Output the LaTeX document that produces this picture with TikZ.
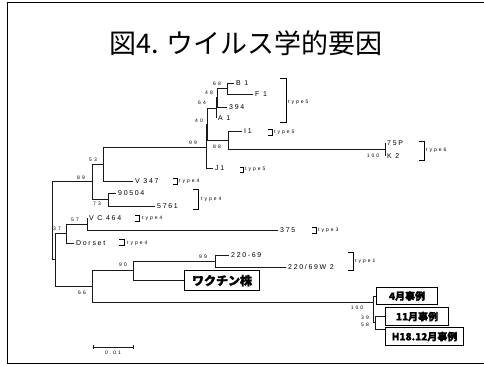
\documentclass[tikz,border=0pt]{standalone}
\usepackage{fontspec}
\setmainfont{Liberation Sans}
\newfontfamily\cjk{Noto Sans CJK JP}
\newfontfamily\cjkh{Noto Sans CJK JP}[BoldFeatures={FakeBold=1.5}]
\newfontfamily\lsp[LetterSpace=24]{Liberation Sans}
\newfontfamily\lss[LetterSpace=40]{Liberation Sans}
\begin{document}
\begin{tikzpicture}[x=1pt,y=-1pt,
  edge/.style={line width=1pt, black!90},
  brk/.style={line width=0.9pt, black},
  leaf/.style={anchor=west, inner xsep=2pt, inner ysep=0pt, font=\lsp\fontsize{7}{8}\selectfont},
  bs/.style={inner sep=0pt, font=\lss\fontsize{5}{6}\selectfont},
  typ/.style={anchor=west, inner sep=0pt, font=\lss\fontsize{5}{6}\selectfont},
  casebox/.style={draw, line width=1.1pt, fill=white, anchor=north west, inner sep=0pt,
    font=\cjkh\bfseries\fontsize{10}{12}\selectfont}]
\useasboundingbox (0,0) rectangle (484,365);
% frame
\draw[line width=1.5pt] (486,2.5) -- (7.5,2.5) -- (7.5,363.5) -- (486,363.5);
% title
\node[font=\cjk\fontsize{27}{32}\selectfont] (title) at (246,43) {図4. ウイルス学的要因};

% internal nodes
\coordinate (R) at (52,221);
\coordinate (n89) at (92,181.5);
\coordinate (n53) at (103,164);
\coordinate (n99) at (206,147);
\coordinate (n40) at (207,124);
\coordinate (n64) at (216,108);
\coordinate (n48) at (217,97.5);
\coordinate (n68) at (227,88.5);
\coordinate (n88) at (228,140);
\coordinate (n100) at (385,149.5);
\coordinate (n73) at (108,199.5);
\coordinate (Y) at (55,259.5);
\coordinate (n37) at (66,233);
\coordinate (n57) at (87,224);
\coordinate (n66) at (92,286);
\coordinate (n90) at (133,270.5);
\coordinate (n99b) at (215,261);
\coordinate (n100b) at (373,302);
\coordinate (n39) at (375,322);
\coordinate (hH) at (385,329);

% leaves
\node[leaf] (B1) at (234,83) {B 1};
\node[leaf] (F1) at (253,94) {F 1};
\node[leaf] (L394) at (227,107) {394};
\node[leaf] (A1) at (216,118) {A 1};
\node[leaf] (I1) at (242,131) {I1};
\node[leaf] (P75) at (385,143) {75P};
\node[leaf] (K2) at (385,156) {K 2};
\node[leaf] (J1) at (213,168) {J1};
\node[leaf] (V347) at (133,181) {V 347};
\node[leaf] (L90504) at (116,193) {90504};
\node[leaf] (L5761) at (155,206) {5761};
\node[leaf] (VC464) at (87,218) {V C 464};
\node[leaf] (L375) at (278,230) {375};
\node[leaf] (Dorset) at (74,243) {Dorset};
\node[leaf] (L22069) at (229,255) {220-69};
\node[leaf] (L22069W) at (286,267) {220/69W 2};

% tree edges
\draw[edge] (R) |- (n89);
\draw[edge] (R) |- (Y);
\draw[edge] (n89) |- (n53);
\draw[edge] (n89) |- (n73);
\draw[edge] (n53) |- (n99);
\draw[edge] (n53) |- (V347.west);
\draw[edge] (n99) |- (n40);
\draw[edge] (n99) |- (J1.west);
\draw[edge] (n40) |- (n64);
\draw[edge] (n40) |- (n88);
\draw[edge] (n64) |- (n48);
\draw[edge] (n64) |- (A1.west);
\draw[edge] (n48) |- (n68);
\draw[edge] (n48) |- (L394.west);
\draw[edge] (n68) |- (B1.west);
\draw[edge] (n68) |- (F1.west);
\draw[edge] (n88) |- (I1.west);
\draw[edge] (n88) |- (n100);
\draw[edge] (n100) |- (P75.west);
\draw[edge] (n100) |- (K2.west);
\draw[edge] (n73) |- (L90504.west);
\draw[edge] (n73) |- (L5761.west);
\draw[edge] (Y) |- (n37);
\draw[edge] (Y) |- (n66);
\draw[edge] (n37) |- (n57);
\draw[edge] (n37) |- (Dorset.west);
\draw[edge] (n57) |- (VC464.west);
\draw[edge] (n57) |- (L375.west);
\draw[edge] (n66) |- (n90);
\draw[edge] (n66) |- (n100b);
\draw[edge] (n90) |- (n99b);
\draw[edge] (n99b) |- (L22069.west);
\draw[edge] (n99b) |- (L22069W.west);
\draw[edge] (n100b) |- (n39);
\draw[edge] (n39) |- (hH);

% boxes
\node[casebox, minimum width=75pt, minimum height=20pt, font=\cjkh\bfseries\fontsize{12}{14}\selectfont] (vac) at (184,270) {ワクチン株};
\node[casebox, minimum width=61pt, minimum height=17pt] (c4) at (376,287) {4月事例};
\node[casebox, minimum width=63pt, minimum height=18pt] (c11) at (385,307) {11月事例};
\node[casebox, minimum width=78pt, minimum height=18pt] (cH) at (385,327) {H18.12月事例};
\draw[edge] (n90) |- (vac.west);
\draw[edge] (n100b) |- (c4.west);
\draw[edge] (n39) |- (c11.west);

% bootstrap values
\node[bs] (b68) at (217,84) {68};
\node[bs] (b48) at (209,93) {48};
\node[bs] (b64) at (202,103) {64};
\node[bs] (b40) at (199,121) {40};
\node[bs] (b99) at (193,143) {99};
\node[bs] (b88) at (217,147) {88};
\node[bs] (b100) at (373,156) {100};
\node[bs] (b53) at (93,160) {53};
\node[bs] (b89) at (81,178) {89};
\node[bs] (b73) at (97,204) {73};
\node[bs] (b57) at (75,220) {57};
\node[bs] (b37) at (57,229) {37};
\node[bs] (b99b) at (203,257) {99};
\node[bs] (b90) at (123,265) {90};
\node[bs] (b66) at (82,293) {66};
\node[bs] (b100b) at (357,308) {100};
\node[bs] (b39) at (365,318) {39};
\node[bs] (b58) at (365,325) {58};

% type brackets
\draw[brk] (280,78) -- (286,78) -- (286,122) -- (280,122);
\node[typ] (t5a) at (288,102) {type5};
\draw[brk] (268,129) -- (272,129) -- (272,135) -- (268,135);
\node[typ] (t5b) at (274,132) {type5};
\draw[brk] (240,167) -- (243,167) -- (243,172) -- (240,172);
\node[typ] (t5c) at (245,169) {type5};
\draw[brk] (419,141) -- (424,141) -- (424,160) -- (419,160);
\node[typ] (t6) at (426,150) {type6};
\draw[brk] (173,178) -- (177,178) -- (177,184) -- (173,184);
\node[typ] (t4a) at (179,181) {type4};
\draw[brk] (193,189) -- (198,189) -- (198,209) -- (193,209);
\node[typ] (t4b) at (201,199) {type4};
\draw[brk] (135,215) -- (139,215) -- (139,221) -- (135,221);
\node[typ] (t4c) at (142,218) {type4};
\draw[brk] (119,239) -- (124,239) -- (124,245) -- (119,245);
\node[typ] (t4d) at (127,243) {type4};
\draw[brk] (312,227) -- (316,227) -- (316,233) -- (312,233);
\node[typ] (t3) at (318,230) {type3};
\draw[brk] (348,252) -- (353,252) -- (353,270) -- (348,270);
\node[typ] (t1) at (355,261) {type1};

% scale bar
\coordinate (s1) at (93,347);
\coordinate (s2) at (133,347);
\draw[edge] (s1) -- (s2);
\draw[edge] (93,345) -- (93,349);
\draw[edge] (133,345) -- (133,349);
\node[bs] (scale) at (113,353) {0.01};
\end{tikzpicture}
\end{document}
